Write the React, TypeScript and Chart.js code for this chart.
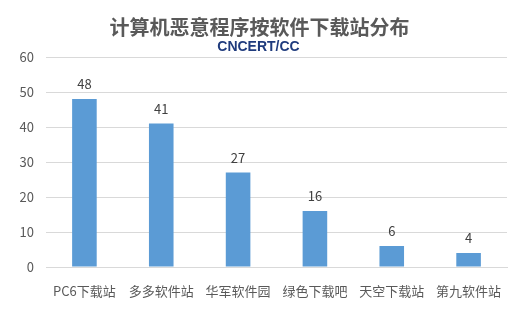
import React, { useEffect, useRef } from "react";
import { Chart, registerables } from "chart.js";

Chart.register(...registerables);

const categories = ["PC6下载站", "多多软件站", "华军软件园", "绿色下载吧", "天空下载站", "第九软件站"];
const values = [48, 41, 27, 16, 6, 4];
const titleText = "计算机恶意程序按软件下载站分布";
const subtitleText = "CNCERT/CC";
const yMin = 0;
const yMax = 60;
const yStep = 10;

const FONT = "'Noto Sans CJK SC', 'Microsoft YaHei', sans-serif";

const valueLabels = {
  id: "valueLabels",
  afterDatasetsDraw(chart: any) {
    const ctx = chart.ctx;
    const meta = chart.getDatasetMeta(0);
    ctx.save();
    ctx.font = `13px ${FONT}`;
    ctx.fillStyle = "#404040";
    ctx.textAlign = "center";
    ctx.textBaseline = "alphabetic";
    meta.data.forEach((bar: any, i: number) => {
      ctx.fillText(String(chart.data.datasets[0].data[i]), bar.x, bar.y - 10);
    });
    ctx.restore();
  },
};

const headings = {
  id: "headings",
  afterDraw(chart: any) {
    const ctx = chart.ctx;
    const cx = chart.width / 2;
    ctx.save();
    ctx.textAlign = "center";
    ctx.textBaseline = "middle";
    ctx.fillStyle = "#595959";
    ctx.font = `bold 20px ${FONT}`;
    ctx.fillText(titleText, cx, 27);
    ctx.fillStyle = "#1f3b7d";
    ctx.font = "bold 14px 'Liberation Sans', Arial, sans-serif";
    ctx.fillText(subtitleText, cx - 1, 47);
    ctx.restore();
  },
};

export default function App() {
  const ref = useRef<HTMLCanvasElement | null>(null);
  useEffect(() => {
    document.body.style.margin = "0";
    const chart = new Chart(ref.current!, {
      type: "bar",
      data: {
        labels: categories,
        datasets: [
          {
            data: values,
            backgroundColor: "#5b9bd5",
            barPercentage: 0.32,
            categoryPercentage: 1,
          },
        ],
      },
      options: {
        animation: false,
        responsive: false,
        devicePixelRatio: 1,
        layout: { padding: { left: 0, right: 12, top: 57, bottom: 0 } },
        plugins: {
          legend: { display: false },
          tooltip: { enabled: false },
          title: { display: false },
        },
        scales: {
          x: {
            grid: { display: false },
            border: { display: true, color: "#d9d9d9" },
            ticks: { color: "#595959", font: { family: FONT, size: 13 }, maxRotation: 0, padding: 8 },
            afterFit(scale: any) {
              scale.height = 46;
            },
          },
          y: {
            min: yMin,
            max: yMax,
            ticks: { stepSize: yStep, color: "#595959", font: { family: FONT, size: 13 }, padding: 12 },
            grid: { color: "#d9d9d9", drawTicks: false },
            border: { display: false },
            afterFit(scale: any) {
              scale.width = 46;
            },
          },
        },
      },
      plugins: [valueLabels, headings],
    });
    return () => chart.destroy();
  }, []);
  return <canvas ref={ref} width={519} height={313} style={{ display: "block" }} />;
}
